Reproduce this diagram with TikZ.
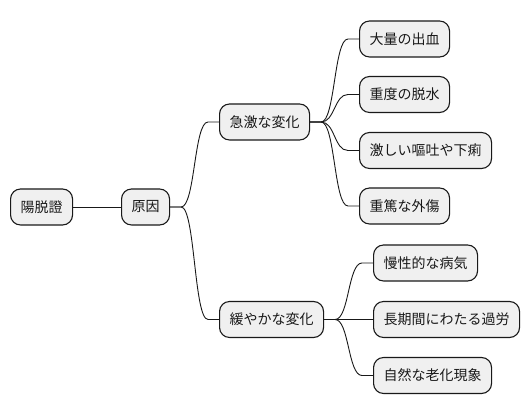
\documentclass[tikz,border=0pt]{standalone}
\usepackage{fontspec}
\setmainfont{Noto Sans CJK JP}
\usetikzlibrary{calc}
\begin{document}
\begin{tikzpicture}[x=1pt,y=1pt,
  box/.style={draw=black!90,line width=1.1pt,fill=black!6,rounded corners=10pt,
    minimum height=36pt,inner xsep=10pt,anchor=west,font=\fontsize{14}{16}\selectfont,text=black!90},
  conn/.style={draw=black!90,line width=0.9pt}]
\useasboundingbox (0,0) rectangle (530,415);
\node[box] (root) at (10,208) {陽脱證};
\node[box] (cause) at (121,208) {原因};
\node[box] (acute) at (219,293) {急激な変化};
\node[box] (a1) at (359,376) {大量の出血};
\node[box] (a2) at (359,320.5) {重度の脱水};
\node[box] (a3) at (359,264.5) {激しい嘔吐や下痢};
\node[box] (a4) at (359,209) {重篤な外傷};
\node[box] (slow) at (219,95.5) {緩やかな変化};
\node[box] (s1) at (373,152) {慢性的な病気};
\node[box] (s2) at (373,95.5) {長期間にわたる過労};
\node[box] (s3) at (373,39.5) {自然な老化現象};
\draw[conn] (root.east) -- (cause.east -| cause.west);
\foreach \p/\c in {cause/acute,cause/slow,acute/a1,acute/a2,acute/a3,acute/a4,slow/s1,slow/s2,slow/s3}{
  \coordinate (st) at ($(\p.east)+(11,0)$);
  \coordinate (en) at ($(\c.west)+(-11,0)$);
  \draw[conn] (\p.east) -- (st) .. controls ($(st)+(14,0)$) and ($(en)+(-14,0)$) .. (en) -- (\c.west);
}
\end{tikzpicture}
\end{document}
